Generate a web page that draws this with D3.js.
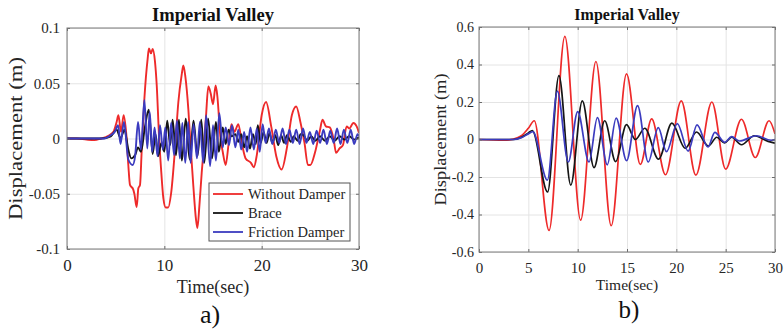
<!DOCTYPE html>
<html>
<head>
<meta charset="utf-8">
<script src="https://cdn.jsdelivr.net/npm/d3@7"></script>
<style>
  body { margin: 0; background: #fff; }
  svg { display: block; font-family: "Liberation Serif", "Times New Roman", serif; }
  .grid line { stroke: #e4e4e4; }
  .grid .domain { display: none; }
  .ax .domain { display: none; }
  .ax line { stroke: #6a6a6a; }
</style>
</head>
<body>
<svg width="784" height="330"></svg>
<script>
const title = 'Imperial Valley'
const seriesNames = ['Without Damper', 'Brace', 'Friction Damper']
const colors = ['#ee2a2a', '#151515', '#3b3bbf']
const serif = '"Liberation Serif", "Times New Roman", serif'

// panel a), [time (s), displacement (m)]
const ticksXA = [0, 10, 20, 30]
const ticksYA = [-0.1, -0.05, 0, 0.05, 0.1]
const labelsYA = ['-0.1', '-0.05', '0', '0.05', '0.1']

const withoutDamperA = [[0,0],[1,0],[2,-0.001],[2.8,-0.0015],[3.5,0],[4.25,0.0025],[4.77,0.006],[5.1,0.015],[5.28,0.021],[5.55,0.006],[5.82,0.021],[6.1,0.003],[6.3,-0.024],[6.47,-0.042],[6.8,-0.046],[6.92,-0.05],[7.16,-0.062],[7.33,-0.045],[7.5,-0.042],[7.67,-0.012],[7.95,0.036],[8.29,0.0725],[8.42,0.0815],[8.63,0.077],[8.8,0.081],[9.04,0.0695],[9.22,0.048],[9.45,0.003],[9.66,-0.027],[9.9,-0.054],[10.14,-0.0625],[10.4,-0.0625],[10.69,-0.05],[11.1,-0.009],[11.44,0.033],[11.78,0.0575],[11.95,0.066],[12.16,0.056],[12.47,0.026],[12.7,-0.007],[12.98,-0.043],[13.25,-0.073],[13.4,-0.081],[13.6,-0.061],[13.84,-0.031],[14.07,-0.007],[14.28,0.02],[14.52,0.047],[14.76,0.041],[15.0,0.031],[15.27,0.048],[15.45,0.038],[15.75,0.002],[16.0,-0.012],[16.3,-0.024],[16.6,-0.005],[16.9,0.013],[17.2,0.006],[17.6,0.013],[18.0,-0.006],[18.35,-0.018],[18.9,-0.022],[19.2,-0.026],[19.5,-0.015],[20.0,0.021],[20.45,0.033],[21.0,0.01],[21.5,-0.016],[22.05,-0.028],[22.6,-0.008],[23.1,0.021],[23.55,0.029],[24.0,0.014],[24.4,-0.004],[24.75,-0.024],[25.0,-0.024],[25.5,-0.012],[26.0,0.008],[26.25,0.017],[26.6,0.011],[27.0,0.01],[27.4,-0.001],[27.65,-0.013],[28.0,-0.009],[28.35,-0.006],[28.73,0.011],[29.0,0.009],[29.42,0.014],[29.76,0.011],[30,0.005]]

const braceA = [[0,0],[3.5,0],[4.5,0.002],[5.1,0.008],[5.5,0],[5.9,0.008],[6.3,-0.01],[6.6,-0.018],[7.0,-0.015],[7.3,-0.008],[7.6,-0.012],[8.0,0.01],[8.4,0.026],[8.8,-0.014],[9.1,0.004],[9.35,-0.016],[9.7,-0.004],[10.0,-0.012],[10.3,0.016],[10.6,-0.006],[10.85,0.017],[11.2,-0.015],[11.5,0.017],[11.8,-0.02],[12.2,0.018],[12.6,-0.019],[13.0,0.016],[13.4,-0.016],[13.8,0.017],[14.1,-0.022],[14.5,0.018],[14.9,-0.018],[15.3,0.015],[15.6,-0.012],[16.0,0.01],[16.3,-0.005],[16.6,0.008],[16.9,0.002],[17.3,0.004],[17.6,-0.003],[17.9,0.004],[18.2,-0.008],[18.5,0.002],[18.8,-0.009],[19.1,0.004],[19.4,-0.005],[19.6,0.012],[19.9,-0.004],[20.2,0.006],[20.5,-0.004],[20.8,0.005],[21.1,-0.004],[21.4,0.003],[21.7,-0.006],[22.0,0.003],[22.3,-0.004],[22.6,0.003],[23.0,-0.003],[23.3,0.002],[23.7,-0.002],[24.0,0.004],[24.3,0.003],[24.7,-0.002],[25.1,0.002],[25.5,-0.002],[26,0.002],[26.5,-0.002],[27,0.002],[27.5,-0.002],[28,0.002],[28.5,-0.001],[29,0.002],[29.5,-0.001],[30,0.001]]

const frictionDamperA = [[0,0],[3.8,0],[4.5,0.003],[4.9,0.006],[5.25,0.012],[5.5,-0.005],[5.85,0.015],[6.3,-0.019],[6.75,-0.024],[7.0,-0.016],[7.3,0.015],[7.6,-0.01],[7.95,0.035],[8.25,-0.009],[8.5,0.024],[8.75,-0.012],[9.0,0.01],[9.3,-0.016],[9.55,0.012],[9.85,-0.01],[10.1,0.01],[10.4,-0.02],[10.7,0.014],[11.0,-0.015],[11.3,0.016],[11.6,-0.018],[11.85,0.014],[12.15,-0.022],[12.45,0.015],[12.7,-0.022],[13.0,0.013],[13.35,-0.018],[13.65,0.015],[14.0,-0.022],[14.3,0.021],[14.7,-0.025],[15.0,0.012],[15.3,-0.02],[15.65,0.023],[16.0,-0.008],[16.3,0.01],[16.65,-0.006],[16.95,0.012],[17.3,-0.008],[17.6,0.008],[17.9,-0.01],[18.2,0.006],[18.5,-0.012],[18.85,0.01],[19.2,-0.01],[19.5,0.009],[19.8,-0.012],[20.1,0.013],[20.4,-0.004],[20.75,0.009],[21.1,-0.005],[21.45,0.008],[21.8,-0.004],[22.15,0.009],[22.5,-0.005],[22.85,0.008],[23.2,-0.004],[23.55,0.008],[23.9,-0.005],[24.25,0.009],[24.6,-0.004],[24.95,0.006],[25.3,-0.005],[25.65,0.007],[26.0,-0.004],[26.35,0.008],[26.7,-0.005],[27.05,0.007],[27.4,-0.004],[27.75,0.009],[28.1,-0.005],[28.45,0.008],[28.8,-0.004],[29.15,0.008],[29.5,-0.005],[29.85,0.004],[30,0.002]]

// panel b)
const ticksXB = [0, 5, 10, 15, 20, 25, 30]
const ticksYB = [-0.6, -0.4, -0.2, 0, 0.2, 0.4, 0.6]
const labelsYB = ['-0.6', '-0.4', '-0.2', '0', '0.2', '0.4', '0.6']

const withoutDamperB = [[0,0],[2.5,-0.004],[3.5,0.002],[4.3,0.02],[5.0,0.06],[5.6,0.1],[7.1,-0.485],[8.7,0.55],[10.3,-0.43],[11.85,0.416],[13.4,-0.46],[14.95,0.35],[16.35,-0.133],[17.5,0.11],[18.9,-0.188],[20.5,0.206],[21.98,-0.19],[23.6,0.2],[25.0,-0.158],[26.6,0.108],[28.0,-0.096],[29.4,0.1],[30,0.03]]

const braceB = [[0,0],[3.5,0],[4.3,0.012],[5.0,0.035],[5.4,0.048],[6.95,-0.28],[8.1,0.341],[9.3,-0.243],[10.47,0.206],[11.66,-0.15],[12.74,0.1],[13.85,-0.118],[14.95,0.079],[15.85,0.0],[16.8,0.06],[18.2,-0.105],[19.55,0.087],[20.9,-0.047],[22.05,0.04],[23.25,-0.035],[24.1,0.012],[24.9,-0.018],[25.6,0.012],[26.6,-0.028],[27.9,0.02],[29.3,-0.01],[30,-0.02]]

const frictionDamperB = [[0,0],[3.5,0],[4.3,0.01],[5.0,0.03],[5.45,0.042],[6.93,-0.217],[7.94,0.258],[9.05,-0.12],[10.0,0.149],[11.15,-0.12],[12.0,0.117],[13.0,-0.135],[13.9,0.114],[14.96,-0.113],[16.07,0.181],[17.15,-0.12],[18.17,0.063],[19.0,-0.065],[20.1,0.085],[21.2,-0.062],[22.1,0.078],[23.2,-0.04],[23.9,0.038],[24.9,-0.015],[25.6,0.015],[26.4,-0.008],[28.1,0.02],[29.6,-0.004],[30,0]]

const svg = d3.select('svg')

const draw_panel = (p) => {
    const w = p.width, h = p.height
    const x = d3.scaleLinear().domain([0, 30]).range([0, w])
    const y = d3.scaleLinear().domain(p.yDomain).range([h, 0])

    const g = svg.append('g').attr('transform', `translate(${p.left},${p.top})`)

    g.append('rect').attr('width', w).attr('height', h).attr('fill', '#fff')

    // grid
    g.append('g').attr('class', 'grid').attr('transform', `translate(0,${h})`)
        .call(d3.axisBottom(x).tickValues(p.ticksX).tickSize(-h).tickFormat(''))
    g.append('g').attr('class', 'grid')
        .call(d3.axisLeft(y).tickValues(p.ticksY).tickSize(-w).tickFormat(''))

    const clipId = 'clip-' + p.name
    g.append('clipPath').attr('id', clipId)
        .append('rect').attr('width', w).attr('height', h)

    const line = d3.line()
        .x(d => x(d[0]))
        .y(d => y(d[1]))
        .curve(d3.curveMonotoneX)

    const lines = g.append('g').attr('clip-path', `url(#${clipId})`)
    p.series.forEach((s, i) => {
        lines.append('path')
            .datum(s)
            .attr('fill', 'none')
            .attr('stroke', colors[i])
            .attr('stroke-width', p.lineWidth)
            .attr('stroke-linejoin', 'round')
            .attr('d', line)
    })

    // axes with inward ticks on all four sides
    const xb = g.append('g').attr('class', 'ax').attr('transform', `translate(0,${h})`)
        .call(d3.axisBottom(x).tickValues(p.ticksX).tickSizeInner(-3).tickSizeOuter(0)
            .tickPadding(p.xPad).tickFormat(d3.format('d')))
    xb.attr('font-family', serif).attr('font-size', p.xTickSize)
    xb.selectAll('text').attr('fill', '#262626')
    g.append('g').attr('class', 'ax')
        .call(d3.axisTop(x).tickValues(p.ticksX).tickSizeInner(-3).tickSizeOuter(0).tickFormat(''))

    const yl = g.append('g').attr('class', 'ax')
        .call(d3.axisLeft(y).tickValues(p.ticksY).tickSizeInner(-3).tickSizeOuter(0)
            .tickPadding(p.yPad).tickFormat((d, i) => p.labelsY[i]))
    yl.attr('font-family', serif).attr('font-size', p.yTickSize)
    yl.selectAll('text').attr('fill', '#262626')
    g.append('g').attr('class', 'ax').attr('transform', `translate(${w},0)`)
        .call(d3.axisRight(y).tickValues(p.ticksY).tickSizeInner(-3).tickSizeOuter(0).tickFormat(''))

    g.append('rect').attr('width', w).attr('height', h)
        .attr('fill', 'none').attr('stroke', '#7a7a7a').attr('stroke-width', 1)

    // titles and labels
    svg.append('text')
        .attr('x', p.left + w / 2).attr('y', p.titleY)
        .attr('text-anchor', 'middle').attr('font-weight', 'bold')
        .attr('font-size', p.titleSize).attr('fill', '#111')
        .text(title)

    svg.append('text')
        .attr('x', p.left + w / 2).attr('y', p.xLabelY)
        .attr('text-anchor', 'middle').attr('font-size', p.xLabelSize).attr('fill', '#262626')
        .text('Time(sec)')

    svg.append('text')
        .attr('transform', `translate(${p.yLabelX},${p.top + h / 2}) rotate(-90)`)
        .attr('text-anchor', 'middle').attr('dominant-baseline', 'central')
        .attr('font-size', p.yLabelSize).attr('fill', '#262626')
        .attr('textLength', p.yLabelLength).attr('lengthAdjust', 'spacingAndGlyphs')
        .text('Displacement (m)')

    svg.append('text')
        .attr('x', p.tagX).attr('y', p.tagY)
        .attr('text-anchor', 'middle').attr('font-size', p.tagSize).attr('fill', '#111')
        .text(p.tag)

    if (p.legend) {
        const lg = g.append('g').attr('transform', `translate(${p.legend.x},${p.legend.y})`)
        lg.append('rect').attr('width', p.legend.w).attr('height', p.legend.h)
            .attr('fill', '#fff').attr('stroke', '#555').attr('stroke-width', 1)
        seriesNames.forEach((n, i) => {
            const yy = 11 + i * 19
            lg.append('line').attr('x1', 4).attr('x2', 34).attr('y1', yy).attr('y2', yy)
                .attr('stroke', colors[i]).attr('stroke-width', 1.8)
            lg.append('text').attr('x', 39).attr('y', yy)
                .attr('dominant-baseline', 'central').attr('font-size', 14.5).attr('fill', '#262626')
                .text(n)
        })
    }
}

draw_panel({
    name: 'a', left: 67, top: 28, width: 292, height: 221,
    yDomain: [-0.1, 0.1], ticksX: ticksXA, ticksY: ticksYA, labelsY: labelsYA,
    series: [withoutDamperA, braceA, frictionDamperA], lineWidth: 1.9,
    xTickSize: 17, yTickSize: 15, xPad: 10, yPad: 7,
    titleY: 21, titleSize: 18.5, xLabelY: 293, xLabelSize: 18,
    yLabelX: 15, yLabelSize: 19, yLabelLength: 163,
    tag: 'a)', tagX: 210, tagY: 323, tagSize: 26,
    legend: { x: 142, y: 155, w: 141, h: 58 }
})

draw_panel({
    name: 'b', left: 479, top: 27, width: 296, height: 225,
    yDomain: [-0.6, 0.6], ticksX: ticksXB, ticksY: ticksYB, labelsY: labelsYB,
    series: [withoutDamperB, braceB, frictionDamperB], lineWidth: 1.7,
    xTickSize: 15, yTickSize: 14, xPad: 10, yPad: 5,
    titleY: 20, titleSize: 16, xLabelY: 290, xLabelSize: 15.5,
    yLabelX: 440, yLabelSize: 16, yLabelLength: 132,
    tag: 'b)', tagX: 629, tagY: 318, tagSize: 25
})
</script>
</body>
</html>
